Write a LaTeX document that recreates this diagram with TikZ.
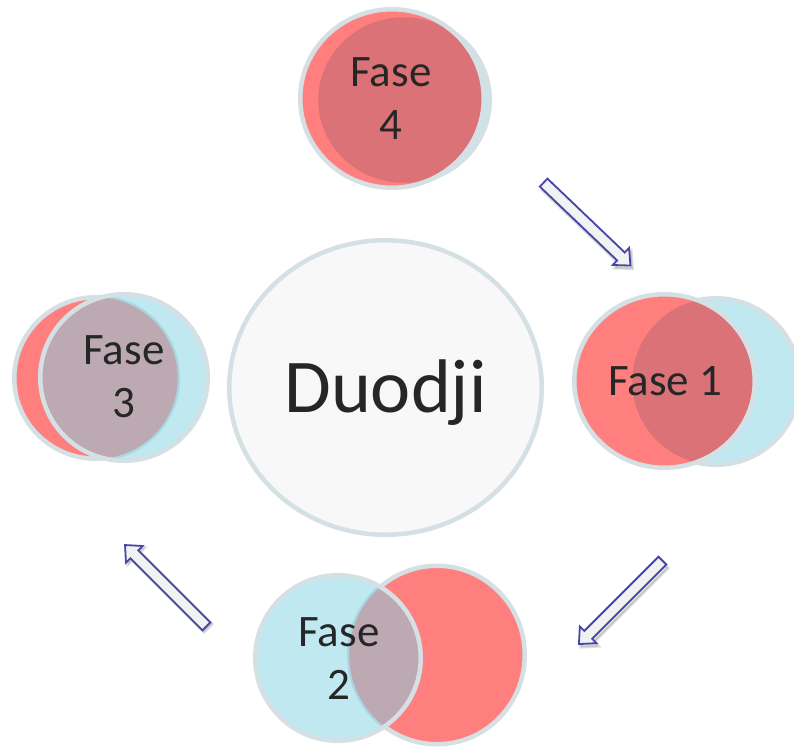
\documentclass[tikz,border=0pt]{standalone}
\usepackage{fontspec}
\setmainfont{Carlito}
\usetikzlibrary{shapes.geometric,shapes.arrows}

\definecolor{ringgray}{HTML}{D5E0E4}
\definecolor{petalred}{HTML}{FF7F7F}
\definecolor{petalblue}{HTML}{BFE8F0}
\definecolor{mixred}{HTML}{DB7278}
\definecolor{mixmauve}{HTML}{BCA9B1}
\definecolor{shadeedge}{HTML}{A9D6E1}
\definecolor{hubfill}{HTML}{F8F8F8}
\definecolor{inktext}{HTML}{262626}
\definecolor{arrowline}{HTML}{4646AA}
\definecolor{arrowfill}{HTML}{F2F2F2}

\begin{document}
\begin{tikzpicture}[x=1pt,y=-1pt,
  ring/.style={draw=ringgray,line width=4.5pt},
  hiddenring/.style={draw=shadeedge,line width=4.5pt},
  phase/.style={text=inktext,align=center,inner sep=0pt,
    font=\fontsize{45}{53}\selectfont},
  arrowbase/.style={single arrow,single arrow head extend=6.3pt,
    single arrow tip angle=84,inner xsep=0pt,inner ysep=4.6pt,
    text height=0pt,text depth=0pt,anchor=tail},
  blockarrow/.style={arrowbase,draw=arrowline,fill=arrowfill,line width=1.8pt},
  blockshadow/.style={arrowbase,draw=black,line width=2.5pt,fill=black,opacity=0.13}
]
\useasboundingbox (0,0) rectangle (794,749);
\fill[white] (0,0) rectangle (794,749);
\clip (0,0) rectangle (794,749);

% central hub
\node[ellipse,ring,fill=hubfill,inner sep=0pt,
  minimum width=312.5pt,minimum height=294.5pt,
  text=inktext,font=\fontsize{76}{90}\selectfont,
  text height=49pt,text depth=0pt] (hub) at (385.5,387.5) {Duodji};

% Fase 4 (red over blue)
\fill[petalblue] (404,100) ellipse [x radius=85.75pt,y radius=82.75pt];
\draw[ring] (404,100) ellipse [x radius=85.75pt,y radius=82.75pt];
\fill[petalred] (392,98.5) ellipse [x radius=91.75pt,y radius=89.25pt];
\begin{scope}
  \clip (404,100) ellipse [x radius=85.75pt,y radius=82.75pt];
  \fill[mixred] (392,98.5) ellipse [x radius=91.75pt,y radius=89.25pt];
\end{scope}
\draw[ring] (392,98.5) ellipse [x radius=91.75pt,y radius=89.25pt];
\node[phase] (fase4) at (391,99) {Fase\\4};

% Fase 1 (red over blue)
\fill[petalblue] (716,381.5) ellipse [x radius=83.75pt,y radius=83.25pt];
\draw[ring] (716,381.5) ellipse [x radius=83.75pt,y radius=83.25pt];
\fill[petalred] (664.5,381) ellipse [x radius=90.25pt,y radius=86.75pt];
\begin{scope}
  \clip (716,381.5) ellipse [x radius=83.75pt,y radius=83.25pt];
  \fill[mixred] (664.5,381) ellipse [x radius=90.25pt,y radius=86.75pt];
\end{scope}
\draw[ring] (664.5,381) ellipse [x radius=90.25pt,y radius=86.75pt];
\node[phase] (fase1) at (665,381) {Fase 1};

% Fase 3 (blue over red)
\fill[petalred] (96,378) ellipse [x radius=81.75pt,y radius=80.75pt];
\draw[ring] (96,378) ellipse [x radius=81.75pt,y radius=80.75pt];
\fill[petalblue] (124,377.5) ellipse [x radius=83.75pt,y radius=83.25pt];
\begin{scope}
  \clip (124,377.5) ellipse [x radius=83.75pt,y radius=83.25pt];
  \draw[hiddenring] (96,378) ellipse [x radius=81.75pt,y radius=80.75pt];
  \fill[mixmauve] (96,378) ellipse [x radius=81.75pt,y radius=80.75pt];
\end{scope}
\draw[ring] (124,377.5) ellipse [x radius=83.75pt,y radius=83.25pt];
\node[phase] (fase3) at (124,377) {Fase\\3};

% Fase 2 (blue over red)
\fill[petalred] (437,655) ellipse [x radius=87.75pt,y radius=89.25pt];
\draw[ring] (437,655) ellipse [x radius=87.75pt,y radius=89.25pt];
\fill[petalblue] (338,658) ellipse [x radius=82.75pt,y radius=82.75pt];
\begin{scope}
  \clip (338,658) ellipse [x radius=82.75pt,y radius=82.75pt];
  \draw[hiddenring] (437,655) ellipse [x radius=87.75pt,y radius=89.25pt];
  \fill[mixmauve] (437,655) ellipse [x radius=87.75pt,y radius=89.25pt];
\end{scope}
\draw[ring] (338,658) ellipse [x radius=82.75pt,y radius=82.75pt];
\node[phase] (fase2) at (339,659) {Fase\\2};

% block arrows between the phases, each with a soft shadow
\node[blockshadow,rotate=-43.7,minimum height=120pt] (s41) at (545,185) {};
\node[blockarrow,rotate=-43.7,minimum height=120pt] (a41) at (543,182) {};

\node[blockshadow,rotate=-135,minimum height=118pt] (s12) at (665,563) {};
\node[blockarrow,rotate=-135,minimum height=118pt] (a12) at (663,560) {};

\node[blockshadow,rotate=135,minimum height=115pt] (s23) at (209,629) {};
\node[blockarrow,rotate=135,minimum height=115pt] (a23) at (207,627) {};
\end{tikzpicture}
\end{document}
